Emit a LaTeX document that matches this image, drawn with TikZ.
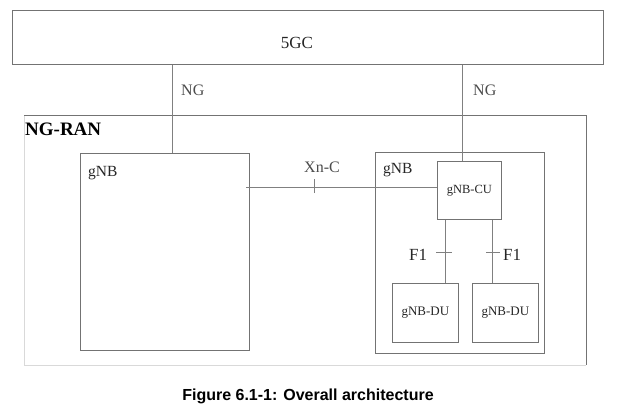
\documentclass[tikz,border=0pt]{standalone}
\usepackage{fontspec}
\setmainfont{Liberation Serif}
\newfontfamily\capfont{Liberation Sans}
\begin{document}
\begin{tikzpicture}[x=1pt,y=-1pt,
  box/.style={draw=black!55,line width=0.8pt,inner sep=0pt,anchor=north west},
  conn/.style={draw=black!50,line width=0.8pt},
  lbl/.style={inner sep=0pt,anchor=base west,text=black!85},
  iflbl/.style={inner sep=0pt,anchor=base west,text=black!70,font=\fontsize{16}{16}\selectfont}]
\useasboundingbox[fill=white] (0,0) rectangle (618,407);
% boxes
\node[box,minimum width=591pt,minimum height=54pt] (core) at (12,10) {};
\node[inner sep=0pt,font=\fontsize{17}{17}\selectfont,text=black!85,anchor=base] (t5gc) at (297,48) {5GC};
% NG-RAN box: darker top/right, light left/bottom
\node[inner sep=0pt,minimum width=562pt,minimum height=250pt,anchor=north west] (ran) at (24,115) {};
\draw[black!15,line width=1pt] (ran.north west) -- (ran.south west) -- (ran.south east);
\draw[black!55,line width=0.8pt] (ran.north west) -- (ran.north east) -- (ran.south east);
\node[lbl,font=\fontsize{19}{19}\bfseries\selectfont,text=black] (tran) at (25,135) {NG-RAN};
% gNBs
\node[box,minimum width=169pt,minimum height=197pt] (gnbL) at (80,153) {};
\node[lbl,font=\fontsize{15.5}{15.5}\selectfont] (tgnbL) at (88,176) {gNB};
\node[box,minimum width=169pt,minimum height=201pt] (gnbR) at (375,152) {};
\node[lbl,font=\fontsize{15.5}{15.5}\selectfont] (tgnbR) at (383,173) {gNB};
\node[box,minimum width=64pt,minimum height=58pt] (cu) at (437,161) {};
\node[inner sep=0pt,font=\fontsize{12.5}{12.5}\selectfont,text=black!85] (tcu) at (cu.center) {gNB-CU};
\node[box,minimum width=66pt,minimum height=59pt] (du1) at (392,283) {};
\node[inner sep=0pt,font=\fontsize{13}{13}\selectfont,text=black!85] (tdu1) at (du1.center) {gNB-DU};
\node[box,minimum width=66pt,minimum height=59pt] (du2) at (472,283) {};
\node[inner sep=0pt,font=\fontsize{13}{13}\selectfont,text=black!85] (tdu2) at (du2.center) {gNB-DU};
% helper coordinates
\coordinate (xL) at (172,0);
\coordinate (xR) at (462,0);
\coordinate (xnS) at (246,187);
\coordinate (xnT) at (314,187);
\coordinate (f1a) at (445,0);
\coordinate (f1b) at (492,0);
% NG
\draw[conn] (core.south -| xL) -- (gnbL.north -| xL);
\draw[conn] (core.south -| xR) -- (cu.north -| xR);
\node[iflbl] (ngL) at (181,95) {NG};
\node[iflbl] (ngR) at (473,95) {NG};
% Xn-C
\draw[conn] (xnS) -- (cu.west |- xnS);
\draw[conn] ([yshift=-6pt]xnT) -- ([yshift=8pt]xnT);
\node[iflbl] (xnc) at (304,172) {Xn-C};
% F1
\draw[conn] (cu.south -| f1a) -- (du1.north -| f1a);
\draw[conn] (cu.south -| f1b) -- (du2.north -| f1b);
\coordinate (tk1) at (445,252);
\coordinate (tk2) at (492,252);
\draw[conn] ([xshift=-9pt]tk1) -- ([xshift=7pt]tk1);
\draw[conn] ([xshift=-6pt]tk2) -- ([xshift=8pt]tk2);
\node[lbl,font=\fontsize{17}{17}\selectfont] (f1l) at (409,260) {F1};
\node[lbl,font=\fontsize{17}{17}\selectfont] (f1r) at (503,260) {F1};
% caption
\node[inner sep=0pt,anchor=base,font=\capfont\bfseries\fontsize{16}{16}\selectfont] (cap) at (308,400) {Figure 6.1-1: Overall architecture};
\end{tikzpicture}
\end{document}
